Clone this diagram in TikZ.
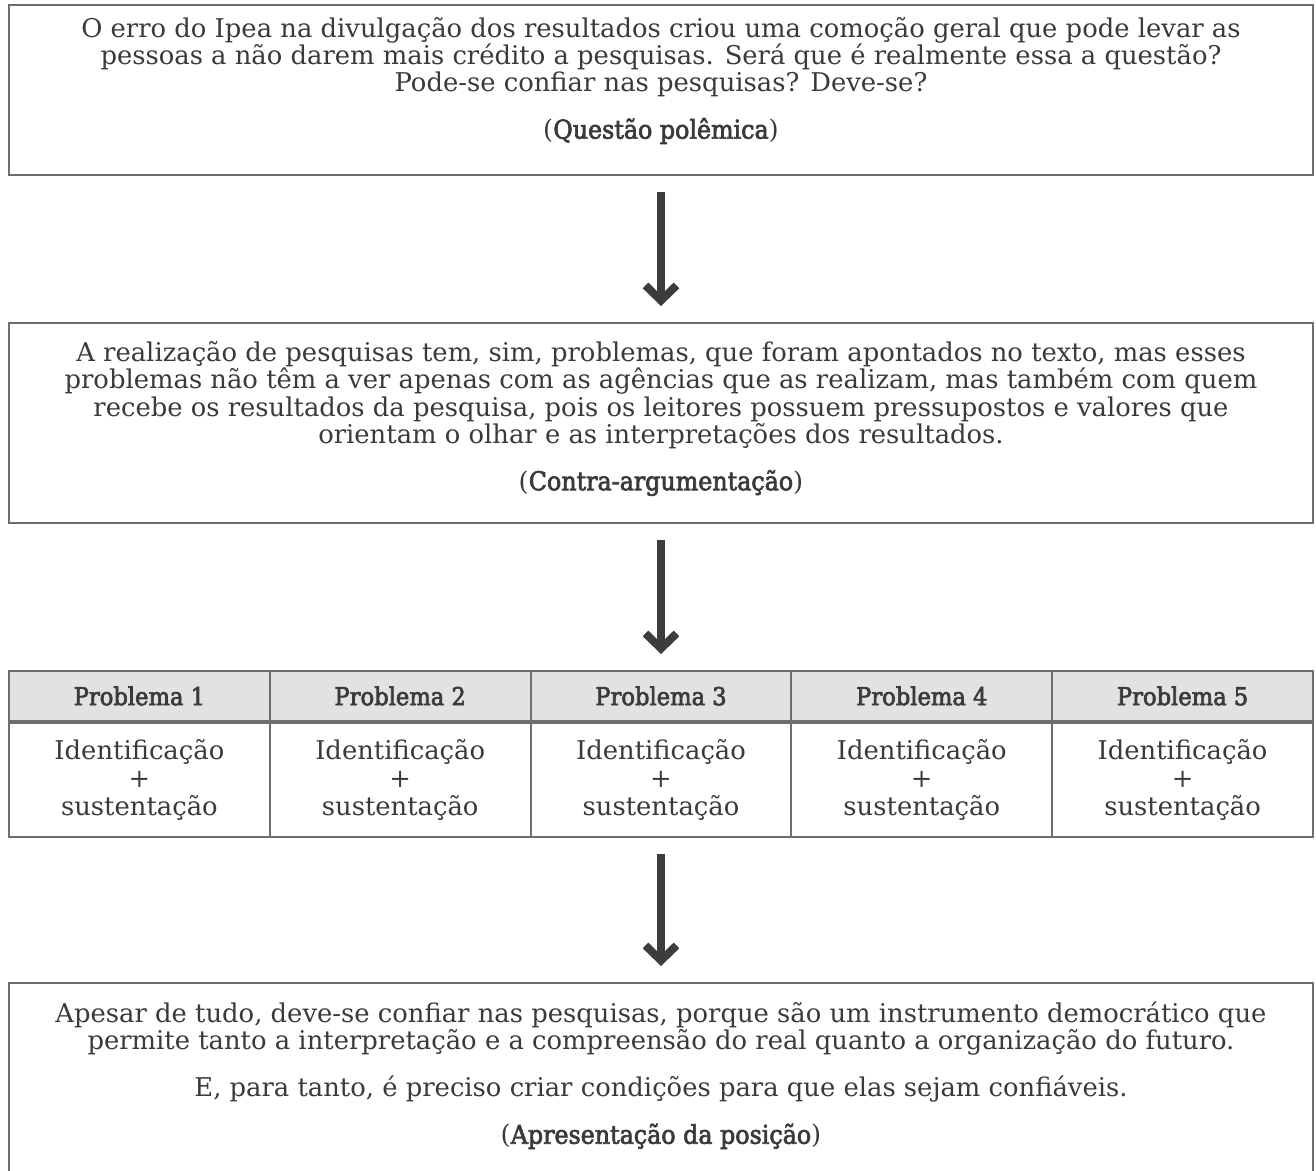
\documentclass[tikz,border=0pt]{standalone}
\usepackage{fontspec}
\setmainfont{DejaVu Serif}[BoldFont={DejaVu Serif}, BoldFeatures={FakeBold=2.6, FakeStretch=0.92}]
\usetikzlibrary{arrows.meta,positioning}

\definecolor{txtgray}{HTML}{3A3A3A}
\definecolor{boxgray}{HTML}{6E6E6E}
\definecolor{headgray}{HTML}{E1E2E4}
\definecolor{arrowgray}{HTML}{3C3C3C}

\begin{document}
\begin{tikzpicture}[
  font=\fontsize{14.7}{15.4}\selectfont, text=txtgray,
  box/.style={draw=boxgray, line width=1.1pt, minimum width=26.08cm, inner sep=0pt, anchor=north},
  txt/.style={align=center, inner sep=0pt, anchor=north},
  hcell/.style={draw=boxgray, line width=1.1pt, fill=headgray, minimum width=5.216cm,
    minimum height=1cm, inner sep=0pt, anchor=north, font=\fontsize{14}{15.4}\selectfont\bfseries},
  cell/.style={draw=boxgray, line width=1.1pt, minimum width=5.216cm, minimum height=2.28cm,
    inner sep=0pt, align=center, font=\fontsize{14.7}{15.9}\selectfont},
  flow/.style={draw=arrowgray, line width=0.16cm,
    -{Straight Barb[length=0.3cm, width=0.62cm, line join=miter, line cap=butt]},
    shorten <=0.32cm, shorten >=0.32cm}
]

  \useasboundingbox (0,0) rectangle (26.32,-23.4);

  % ----------------------
  % Questão polêmica
  % ----------------------
  \node[box, minimum height=3.4cm] (q1) at (13.22,-0.08) {};
  \node[txt, below=0.26cm of q1.north] (q1txt) {O erro do Ipea na divulgação dos resultados criou uma comoção geral que pode levar as\\
    pessoas a não darem mais crédito a pesquisas. Será que é realmente essa a questão?\\
    Pode-se confiar nas pesquisas? Deve-se?\\[0.4cm]
    (\textbf{Questão polêmica})};

  % ----------------------
  % Contra-argumentação
  % ----------------------
  \node[box, minimum height=4cm] (q2) at (13.22,-6.44) {};
  \node[txt, below=0.39cm of q2.north] (q2txt) {A realização de pesquisas tem, sim, problemas, que foram apontados no texto, mas esses\\
    problemas não têm a ver apenas com as agências que as realizam, mas também com quem\\
    recebe os resultados da pesquisa, pois os leitores possuem pressupostos e valores que\\
    orientam o olhar e as interpretações dos resultados.\\[0.4cm]
    (\textbf{Contra-argumentação})};

  % ----------------------
  % Tabela dos problemas
  % ----------------------
  \foreach \i in {1,...,5}{
    \node[hcell] (h\i) at ({0.18+(\i-0.5)*5.216},-13.4) {Problema \i};
    \node[cell, below=0pt of h\i] (c\i) {Identificação\\+\\sustentação};
  }

  % ----------------------
  % Apresentação da posição
  % ----------------------
  \node[box, minimum height=4.4cm] (q4) at (13.22,-19.64) {};
  \node[txt, below=0.39cm of q4.north] (q4txt) {Apesar de tudo, deve-se confiar nas pesquisas, porque são um instrumento democrático que\\
    permite tanto a interpretação e a compreensão do real quanto a organização do futuro.\\[0.4cm]
    E, para tanto, é preciso criar condições para que elas sejam confiáveis.\\[0.4cm]
    (\textbf{Apresentação da posição})};

  % ----------------------
  % Setas
  % ----------------------
  \draw[flow] (q1) -- (q2);
  \draw[flow] (q2) -- (h3);
  \draw[flow] (c3) -- (q4);

\end{tikzpicture}
\end{document}
